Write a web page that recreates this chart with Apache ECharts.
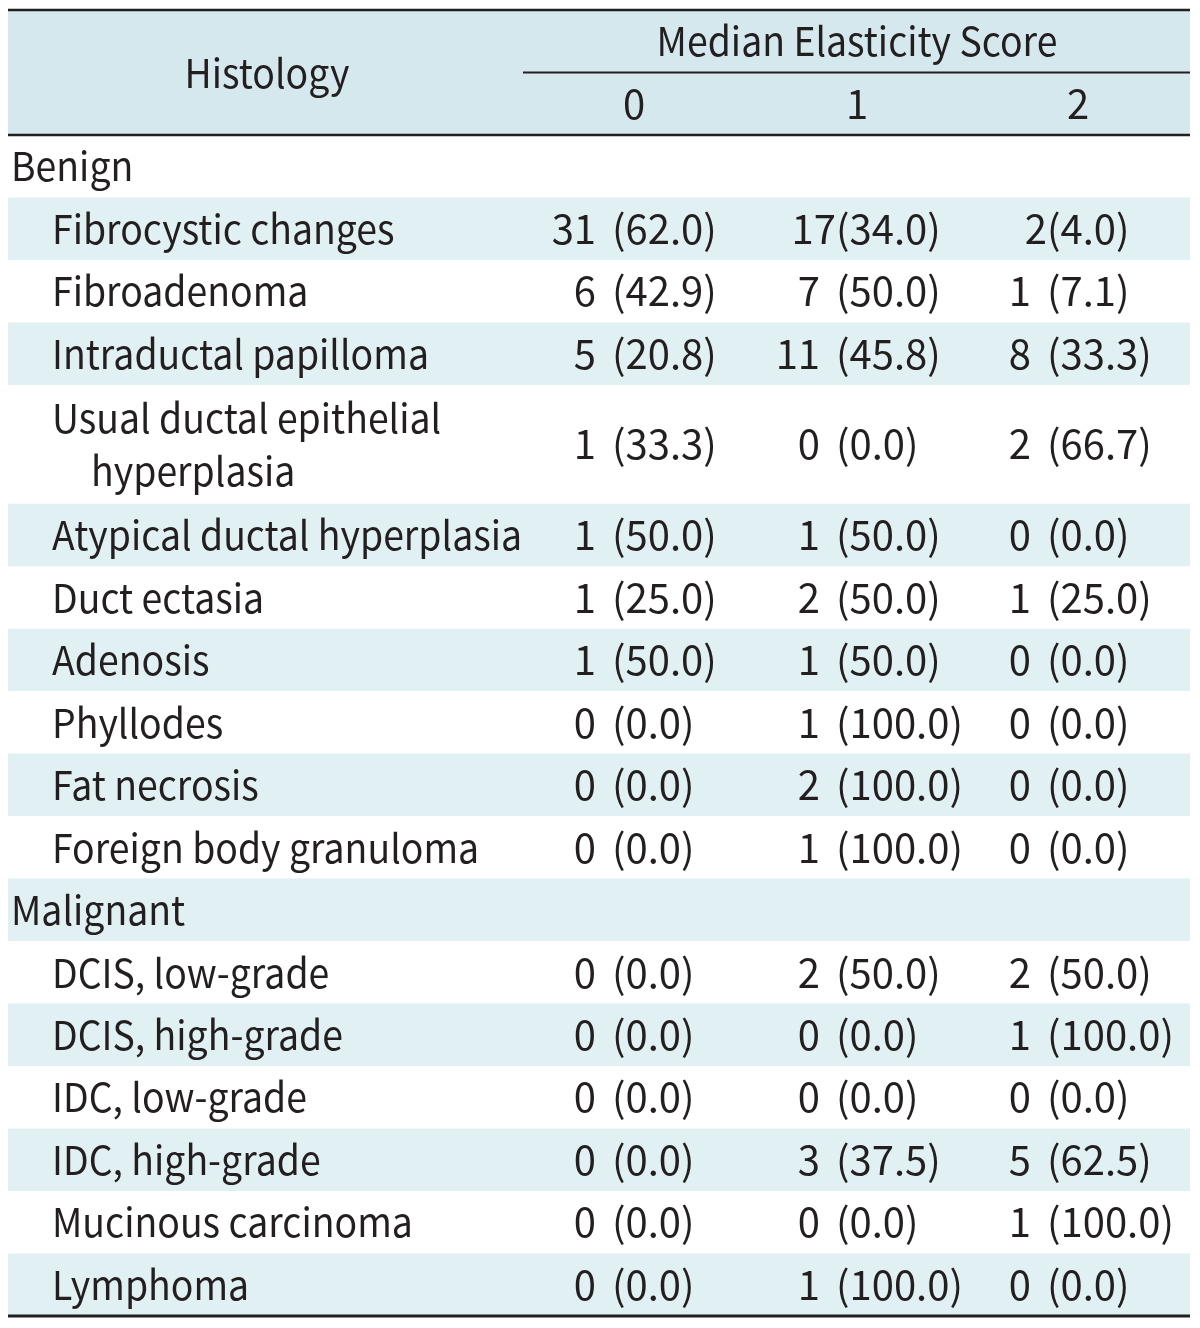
<!DOCTYPE html>
<html><head><meta charset="utf-8">
<script src="https://cdn.jsdelivr.net/npm/echarts@6/dist/echarts.min.js"></script>
<style>html,body{margin:0;padding:0;background:#fff}#c{width:1200px;height:1328px}</style>
</head><body><div id="c"></div>
<script>
// ---- table content ----
const headerHistology = 'Histology';
const headerScore = 'Median Elasticity Score';
const scoreLabels = ['0', '1', '2'];
const rowLabels = [
  'Benign',
  'Fibrocystic changes',
  'Fibroadenoma',
  'Intraductal papilloma',
  'Usual ductal epithelial\nhyperplasia',
  'Atypical ductal hyperplasia',
  'Duct ectasia',
  'Adenosis',
  'Phyllodes',
  'Fat necrosis',
  'Foreign body granuloma',
  'Malignant',
  'DCIS, low-grade',
  'DCIS, high-grade',
  'IDC, low-grade',
  'IDC, high-grade',
  'Mucinous carcinoma',
  'Lymphoma'
];
const rowLevel = [0,1,1,1,1,1,1,1,1,1,1,0,1,1,1,1,1,1];
const score0 = ['', '31 (62.0)', '6 (42.9)', '5 (20.8)', '1 (33.3)', '1 (50.0)', '1 (25.0)', '1 (50.0)', '0 (0.0)', '0 (0.0)', '0 (0.0)', '', '0 (0.0)', '0 (0.0)', '0 (0.0)', '0 (0.0)', '0 (0.0)', '0 (0.0)'];
const score1 = ['', '17(34.0)', '7 (50.0)', '11 (45.8)', '0 (0.0)', '1 (50.0)', '2 (50.0)', '1 (50.0)', '1 (100.0)', '2 (100.0)', '1 (100.0)', '', '2 (50.0)', '0 (0.0)', '0 (0.0)', '3 (37.5)', '0 (0.0)', '1 (100.0)'];
const score2 = ['', '2(4.0)', '1 (7.1)', '8 (33.3)', '2 (66.7)', '0 (0.0)', '1 (25.0)', '0 (0.0)', '0 (0.0)', '0 (0.0)', '0 (0.0)', '', '2 (50.0)', '1 (100.0)', '0 (0.0)', '5 (62.5)', '1 (100.0)', '0 (0.0)'];
const scoreCols = [score0, score1, score2];

// ---- layout (in axis units: x = pixels, y = row units) ----
const FONT = '"Noto Sans CJK KR", "Noto Sans", sans-serif';
const FS = 40;
const INK = '#231f20';
const HEAD_BG = '#d5e8ed';
const ROW_BG = '#e1f0f3';
const X_LEFT = 8, X_RIGHT = 1190;
const X_GROUP = 11, X_ITEM = 52, X_CONT = 91;
const X_PAREN = [612, 836, 1047];
const COUNT_GAP = 7;
const X_SCORE_HEAD = [634, 857, 1078];
const X_HIST = 267, X_SCORE_TITLE = 857, X_SUBLINE = 523;
const LABEL_SCALE = 0.935;

const rows = [];
let acc = 2;
rowLabels.forEach((lab, i) => {
  const h = lab.indexOf('\n') >= 0 ? 1.9 : 1;
  rows.push([i, acc, acc + h]);
  acc += h;
});
const total = acc;

function txt(x, y, s, align, sx) {
  return {
    type: 'text', x: x, y: y, scaleX: sx || 1, scaleY: 1,
    style: { x: 0, y: 0, text: s, fill: INK, font: FS + 'px ' + FONT, align: align || 'left', verticalAlign: 'middle' }
  };
}

function renderRow(params, api) {
  const i = api.value(0), y0 = api.value(1), y1 = api.value(2);
  const a = api.coord([X_LEFT, y0]), b = api.coord([X_RIGHT, y1]);
  const children = [];
  if (i % 2 === 1) {
    children.push({ type: 'rect', shape: { x: a[0], y: a[1], width: b[0] - a[0], height: b[1] - a[1] }, style: { fill: ROW_BG } });
  }
  const mid = (y0 + y1) / 2;
  const lines = rowLabels[i].split('\n');
  const x0 = rowLevel[i] === 0 ? X_GROUP : X_ITEM;
  if (lines.length === 1) {
    const p = api.coord([x0, mid]);
    children.push(txt(p[0], p[1], lines[0], 'left', LABEL_SCALE));
  } else {
    const p1 = api.coord([x0, mid - 0.425]);
    const p2 = api.coord([X_CONT, mid + 0.425]);
    children.push(txt(p1[0], p1[1], lines[0], 'left', LABEL_SCALE));
    children.push(txt(p2[0], p2[1], lines[1], 'left', LABEL_SCALE));
  }
  scoreCols.forEach((col, c) => {
    const s = col[i];
    if (!s) return;
    const k = s.indexOf('(');
    const count = s.slice(0, k);
    const hasSpace = /\s$/.test(count);
    const p = api.coord([X_PAREN[c], mid]);
    const q = api.coord([X_PAREN[c] - (hasSpace ? COUNT_GAP : 0), mid]);
    children.push(txt(q[0], q[1], count, 'right'));
    children.push(txt(p[0], p[1], s.slice(k), 'left'));
  });
  return { type: 'group', children: children };
}

function renderHeader(params, api) {
  const a = api.coord([X_LEFT, 0]), b = api.coord([X_RIGHT, 2]);
  const m1 = api.coord([X_SUBLINE, 1]);
  const bot = api.coord([X_LEFT, total]);
  const children = [];
  children.push({ type: 'rect', shape: { x: a[0], y: a[1], width: b[0] - a[0], height: b[1] - a[1] }, style: { fill: HEAD_BG } });
  const line = (x1, y, x2, w) => ({ type: 'line', shape: { x1: x1, y1: y, x2: x2, y2: y }, style: { stroke: INK, lineWidth: w } });
  children.push(line(a[0], a[1], b[0], 2.5));
  children.push(line(m1[0], m1[1], b[0], 2));
  children.push(line(a[0], b[1], b[0], 2.5));
  children.push(line(a[0], bot[1], b[0], 3));
  const ph = api.coord([X_HIST, 1]);
  children.push(txt(ph[0], ph[1], headerHistology, 'center', LABEL_SCALE));
  const pt = api.coord([X_SCORE_TITLE, 0.5]);
  children.push(txt(pt[0], pt[1], headerScore, 'center', LABEL_SCALE));
  scoreLabels.forEach((s, c) => {
    const p = api.coord([X_SCORE_HEAD[c], 1.5]);
    children.push(txt(p[0], p[1], s, 'center'));
  });
  return { type: 'group', children: children };
}

const chart = echarts.init(document.getElementById('c'), null, { renderer: 'canvas' });
chart.setOption({
  animation: false,
  backgroundColor: '#ffffff',
  grid: { left: 0, right: 0, top: 10, bottom: 12 },
  xAxis: { type: 'value', min: 0, max: 1200, show: false },
  yAxis: { type: 'value', min: 0, max: total, inverse: true, show: false },
  series: [
    { type: 'custom', renderItem: renderRow, data: rows, clip: false, silent: true, encode: { x: -1, y: [1, 2] } },
    { type: 'custom', renderItem: renderHeader, data: [[0, 0, total]], clip: false, silent: true, encode: { x: -1, y: [1, 2] } }
  ]
});
</script>
</body></html>
